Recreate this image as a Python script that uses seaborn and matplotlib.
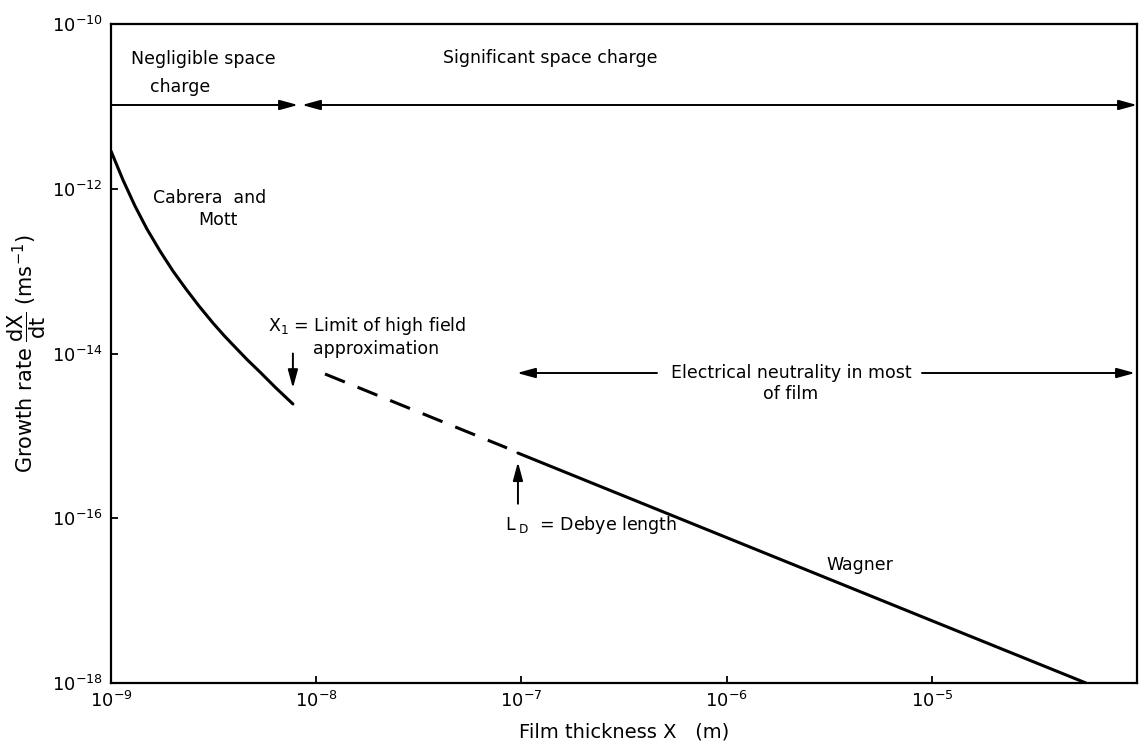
import matplotlib
matplotlib.use("Agg")
import matplotlib.pyplot as plt
import seaborn as sns
import numpy as np
import pandas as pd

# ---- data ----
cm_x = [1.0e-9, 1.144e-9, 1.309e-9, 1.497e-9, 1.733e-9, 2.004e-9, 2.319e-9, 2.684e-9,
        3.14e-9, 3.554e-9, 4.02e-9, 4.60e-9, 5.32e-9, 6.37e-9, 7.70e-9]
cm_y = [2.87e-12, 1.277e-12, 6.17e-13, 3.245e-13, 1.754e-13, 1.003e-13, 6.07e-14,
        3.77e-14, 2.345e-14, 1.654e-14, 1.199e-14, 8.46e-15, 5.96e-15, 3.81e-15, 2.44e-15]
dash_x = [1.104e-8, 8.51e-8]
dash_y = [5.64e-15, 7.13e-16]
wag_x = [9.62e-8, 1.0e-6, 1.0e-5, 5.64e-5]
wag_y = [6.19e-16, 5.83e-17, 5.71e-18, 1.0e-18]
x_ticks = [1e-9, 1e-8, 1e-7, 1e-6, 1e-5]
x_tick_labels = [r"$10^{-9}$", r"$10^{-8}$", r"$10^{-7}$", r"$10^{-6}$", r"$10^{-5}$"]
y_ticks = [1e-18, 1e-16, 1e-14, 1e-12, 1e-10]
y_tick_labels = [r"$10^{-18}$", r"$10^{-16}$", r"$10^{-14}$", r"$10^{-12}$", r"$10^{-10}$"]
x1_pos = 7.7e-9
ld_pos = 9.62e-8

sns.set_style("ticks")
plt.rcParams["font.family"] = ["DejaVu Sans"]
plt.rcParams["mathtext.default"] = "regular"

W, H = 1139, 751
fig = plt.figure(figsize=(W / 100, H / 100), dpi=100)
L, R, T, B = 111, 1137, 24, 683
ax = fig.add_axes([L / W, (H - B) / H, (R - L) / W, (B - T) / H])
ax.set_xscale("log")
ax.set_yscale("log")
ax.set_xlim(1e-9, 1e-4)
ax.set_ylim(1e-18, 1e-10)

df_cm = pd.DataFrame({"x": cm_x, "y": cm_y})
df_d = pd.DataFrame({"x": dash_x, "y": dash_y})
df_w = pd.DataFrame({"x": wag_x, "y": wag_y})
sns.lineplot(data=df_cm, x="x", y="y", ax=ax, color="black", lw=2.2, sort=False)
sns.lineplot(data=df_d, x="x", y="y", ax=ax, color="black", lw=2.2, sort=False,
             linestyle=(0, (7, 4.5)))
sns.lineplot(data=df_w, x="x", y="y", ax=ax, color="black", lw=2.2, sort=False)

ax.set_xticks(x_ticks)
ax.set_xticklabels(x_tick_labels, fontsize=13, color="black")
ax.set_yticks(y_ticks)
ax.set_yticklabels(y_tick_labels, fontsize=13, color="black")
ax.minorticks_off()
ax.tick_params(direction="in", length=5, width=1.3, pad=6, colors="black")
for s in ax.spines.values():
    s.set_linewidth(1.6)
    s.set_color("black")

ax.set_xlabel("Film thickness X   (m)", fontsize=14, labelpad=8, color="black")
ax.set_ylabel(r"Growth rate $\dfrac{dX}{dt}$ (ms$^{-1}$)", fontsize=15, labelpad=3,
              color="black")


def af(xp, yp):
    return ((xp - L) / (R - L), (B - yp) / (B - T))


fs = 12.5
tk = dict(transform=ax.transAxes, fontsize=fs, color="black")
ax.text(*af(131, 59), "Negligible space", ha="left", va="center", **tk)
ax.text(*af(150, 87), "charge", ha="left", va="center", **tk)
ax.text(*af(443, 58), "Significant space charge", ha="left", va="center", **tk)
ax.text(*af(153, 198), "Cabrera  and", ha="left", va="center", **tk)
ax.text(*af(198, 220), "Mott", ha="left", va="center", **tk)
ax.text(*af(268, 326), r"X$_1$ = Limit of high field", ha="left", va="center", **tk)
ax.text(*af(313, 349), "approximation", ha="left", va="center", **tk)
ax.text(*af(505, 525), r"L$_{\ D}$  = Debye length", ha="left", va="center", **tk)
ax.text(*af(860, 565), "Wagner", ha="center", va="center", **tk)
ax.text(*af(791, 373), "Electrical neutrality in most", ha="center", va="center", **tk)
ax.text(*af(791, 394), "of film", ha="center", va="center", **tk)

ap = dict(arrowstyle="-|>,head_length=1.1,head_width=0.3", color="black", lw=1.4,
          shrinkA=0, shrinkB=0)
ap2 = dict(arrowstyle="<|-|>,head_length=1.1,head_width=0.3", color="black", lw=1.4,
           shrinkA=0, shrinkB=0)
# region arrows
ax.annotate("", xy=af(298, 105), xytext=af(111, 105), xycoords="axes fraction",
            textcoords="axes fraction", arrowprops=ap)
ax.annotate("", xy=af(302, 105), xytext=af(1137, 105), xycoords="axes fraction",
            textcoords="axes fraction", arrowprops=ap2)
ax.annotate("", xy=af(517, 373), xytext=af(657, 373), xycoords="axes fraction",
            textcoords="axes fraction", arrowprops=ap)
ax.annotate("", xy=af(1135, 373), xytext=af(922, 373), xycoords="axes fraction",
            textcoords="axes fraction", arrowprops=ap)
# X1 and L_D arrows
ax.annotate("", xy=(x1_pos, 3.8e-15), xytext=(x1_pos, 1.0e-14), arrowprops=ap)
ax.annotate("", xy=(ld_pos, 4.8e-16), xytext=(ld_pos, 1.5e-16), arrowprops=ap)

fig.savefig("out.png", dpi=100)
